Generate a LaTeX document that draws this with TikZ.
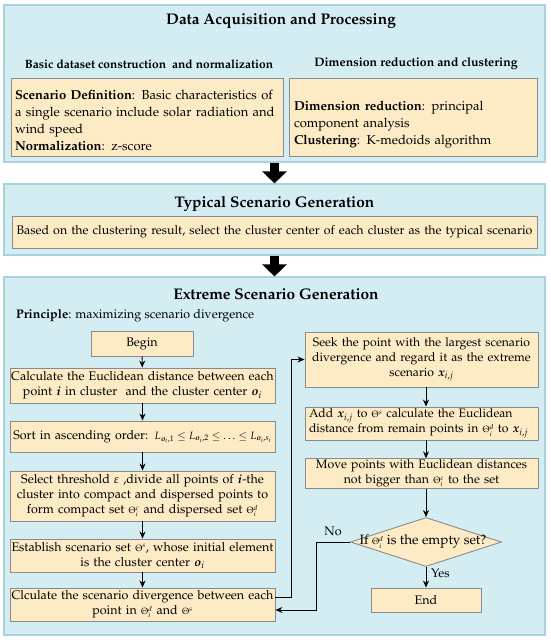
\documentclass[tikz,border=0pt]{standalone}
\usepackage[T1]{fontenc}
\usepackage{mathpazo}
\usepackage{amsmath,bm}
\usetikzlibrary{arrows.meta,shapes.geometric,calc}
\definecolor{panelfill}{HTML}{D4EDF3}
\definecolor{paneldraw}{HTML}{A8D3DD}
\definecolor{boxfill}{HTML}{FDEBC6}
\definecolor{boxdraw}{HTML}{8A8A8A}
\tikzset{
  panel/.style={fill=panelfill, draw=paneldraw, line width=1.2pt, inner sep=0pt},
  box/.style={fill=boxfill, draw=boxdraw, line width=0.9pt, inner sep=1pt, align=center,
    font=\fontsize{12.5}{15}\selectfont},
  ptitle/.style={font=\fontsize{15.4}{18}\selectfont\bfseries, inner sep=0pt},
  subtitle/.style={font=\fontsize{12}{14}\selectfont\bfseries, inner sep=0pt},
  flow/.style={-{Stealth[length=7pt,width=6pt]}, line width=0.9pt},
  bigarrow/.style={-{Triangle[width=24pt,length=12pt]}, line width=9pt},
  lbl/.style={font=\fontsize{12.5}{14}\selectfont, inner sep=0pt}
}
\newcommand{\jline}[1]{\makebox[259pt][s]{#1}}
\begin{document}
\begin{tikzpicture}[x=1pt,y=-1pt]
\useasboundingbox (0,0) rectangle (550,640);
% panels
\node[panel, minimum width=541, minimum height=157] (p1) at (274.5,83.5) {};
\node[panel, minimum width=541, minimum height=71] (p2) at (274.5,219.5) {};
\node[panel, minimum width=541, minimum height=358] (p3) at (274.5,456) {};
% panel 1
\node[ptitle] (t1) at (281,21) {Data Acquisition and Processing};
\node[subtitle] (s1) at (149,64) {Basic dataset construction \ and normalization};
\node[subtitle, font=\fontsize{12.3}{14}\selectfont\bfseries] (s2) at (416,64) {Dimension reduction and clustering};
\node[box, align=left, inner xsep=4pt, text width=264, minimum height=78, font=\fontsize{13}{17}\selectfont] (l1) at (147,117)
  {\rule{0pt}{17pt}\jline{\textbf{Scenario Definition}: Basic characteristics of}\\ \jline{a single scenario include solar radiation and}\\ wind speed\\ \textbf{Normalization}: z-score};
\node[box, align=left, inner xsep=5pt, text width=238, minimum height=78, font=\fontsize{13}{17}\selectfont] (r1) at (413,117)
  {\rule{0pt}{24pt}\textbf{Dimension reduction}: principal\\ component analysis\\ \textbf{Clustering}: K-medoids algorithm};
% panel 2
\node[ptitle] (t2) at (274.5,204) {Typical Scenario Generation};
\node[box, text width=523, minimum height=32, font=\fontsize{12.4}{15}\selectfont] (tb) at (274.5,232)
  {Based on the clustering result, select the cluster center of each cluster as the typical scenario};
% panel 3
\node[ptitle] (t3) at (276,294) {Extreme Scenario Generation};
\node[lbl, anchor=west] (pr) at (16,316) {\textbf{Principle}: maximizing scenario divergence};
\node[box, text width=100, minimum height=25] (begin) at (142,343.5) {Begin};
\node[box, text width=263, minimum height=35] (calc) at (142.5,385.5)
  {Calculate the Euclidean distance between each\\ point $\bm{i}$ in cluster \ and the cluster center $\bm{o}_i$};
\node[box, text width=263, minimum height=31] (sort) at (142.5,436.5)
  {\mbox{Sort in ascending order: {\fontsize{10.5}{12}\selectfont$L_{\bm{o}_i,1}\le L_{\bm{o}_i,2}\le\ldots\le L_{\bm{o}_i,s_i}$}}};
\node[box, text width=263, minimum height=50] (sel) at (142.5,496)
  {Select threshold $\varepsilon$ ,divide all points of $\bm{i}$-the\\ cluster into compact and dispersed points to\\ form compact set {\small$\Theta_i^c$} and dispersed set {\small$\Theta_i^d$}};
\node[box, text width=263, minimum height=33] (est) at (142.5,555.5)
  {Establish scenario set {\small$\Theta^s$}, whose initial element\\ is the cluster center $\bm{o}_i$};
\node[box, text width=263, minimum height=33] (clc) at (142.5,604.5)
  {Clculate the scenario divergence between each\\ point in {\small$\Theta_i^d$} and {\small$\Theta^s$}};
\node[box, text width=231, minimum height=55, font=\fontsize{12.2}{15}\selectfont] (seek) at (421.5,359.5)
  {Seek the point with the largest scenario\\ divergence and regard it as the extreme\\ scenario $\bm{x}_{i,j}$};
\node[box, align=left, inner xsep=4pt, text width=225, minimum height=33, font=\fontsize{12.2}{15}\selectfont] (add) at (421.5,423.5)
  {Add $\bm{x}_{i,j}$ to {\small$\Theta^s$} calculate the Euclidean\\ distance from remain points in {\small$\Theta_i^d$} to $\bm{x}_{i,j}$};
\node[box, text width=231, minimum height=29, font=\fontsize{12.3}{15}\selectfont] (move) at (421.5,473.5)
  {Move points with Euclidean distances\\ not bigger than {\small$\Theta_i^c$} to the set};
\node[box, diamond, inner sep=0pt, minimum width=151, minimum height=49] (dia) at (426,542) {};
\node[lbl, font=\fontsize{13.5}{15}\selectfont] (diat) at (423,542) {If {\small$\Theta_i^d$} is the empty set?};
\node[box, text width=108, minimum height=24] (endn) at (426,600) {End};
% big arrows
\draw[bigarrow] (p1.south -| tb) -- (p2.north -| tb);
\draw[bigarrow] (p2.south -| tb) -- (p3.north -| tb);
% flow arrows
\draw[flow] (begin) -- (calc);
\draw[flow] (calc) -- (sort);
\draw[flow] (sort) -- (sel);
\draw[flow] (sel) -- (est);
\draw[flow] (est) -- (clc);
\draw[flow] ($(clc.east)+(0,-7.5)$) -- ++(16,0) |- (seek.west);
\draw[flow] (seek.south -| dia) -- (add.north -| dia);
\draw[flow] (add.south -| dia) -- (move.north -| dia);
\draw[flow] (move.south -| dia) -- (dia.north);
\draw[flow] (dia.south) -- (endn.north);
\draw[flow] (dia.west) -- ++(-34,0) |- ($(clc.east)+(0,5.5)$);
\node[lbl] (no) at (333,531) {No};
\node[lbl, anchor=west] (yes) at (431,573) {Yes};
\end{tikzpicture}
\end{document}
